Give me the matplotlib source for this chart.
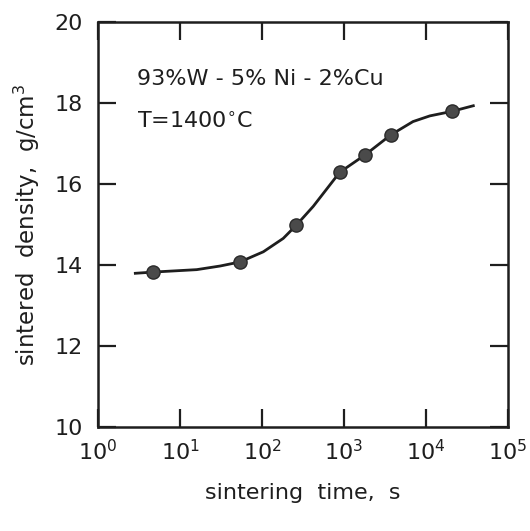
import matplotlib
matplotlib.use("Agg")
import matplotlib.pyplot as plt
from matplotlib.ticker import NullLocator

# measured points: sintering time (s) and sintered density (g/cm^3)
time_s = [4.7, 54, 264, 890, 1820, 3730, 20700]
density = [13.83, 14.08, 14.99, 16.29, 16.72, 17.21, 17.79]

# trend curve through the data
curve_t = [2.85, 4.7, 16, 31, 54, 104, 182, 264, 423, 890, 1820, 3730, 6980, 11200, 20700, 38000]
curve_d = [13.80, 13.83, 13.89, 13.98, 14.08, 14.33, 14.66, 14.99, 15.45, 16.29, 16.72, 17.21,
           17.54, 17.68, 17.79, 17.93]

x_ticks = [1, 10, 100, 1000, 10000, 100000]
y_ticks = [10, 12, 14, 16, 18, 20]

fig = plt.figure(figsize=(5.30, 5.31), dpi=100)
ax = fig.add_axes([0.185, 0.195, 0.773, 0.764])

ink = "#1e1e1e"
ax.plot(curve_t, curve_d, color=ink, lw=2.0, zorder=2)
ax.plot(time_s, density, "o", ms=9.5, color="#4a4a4a", mec="#2a2a2a", mew=1.0, zorder=3)

ax.set_xscale("log")
ax.set_xlim(1, 1e5)
ax.set_ylim(10, 20)
ax.set_xticks(x_ticks)
ax.xaxis.set_minor_locator(NullLocator())
ax.set_yticks(y_ticks)

for s in ax.spines.values():
    s.set_linewidth(1.8)
    s.set_color(ink)

ax.tick_params(axis="both", which="major", direction="in", length=13, width=1.6,
               top=True, right=True, colors=ink, labelsize=16)
ax.tick_params(axis="x", pad=8)
ax.tick_params(axis="y", pad=11)

ax.set_xlabel("sintering  time,  s", fontsize=16, color=ink, labelpad=14)
ax.set_ylabel("sintered  density,  g/cm$^3$", fontsize=16.5, color=ink, labelpad=9)

ax.text(0.095, 0.845, "93%W - 5% Ni - 2%Cu", transform=ax.transAxes, fontsize=16, color=ink)
ax.text(0.095, 0.74, "T=1400$^{\\circ}$C", transform=ax.transAxes, fontsize=16, color=ink)

fig.savefig("out.png", dpi=100, facecolor="white")
